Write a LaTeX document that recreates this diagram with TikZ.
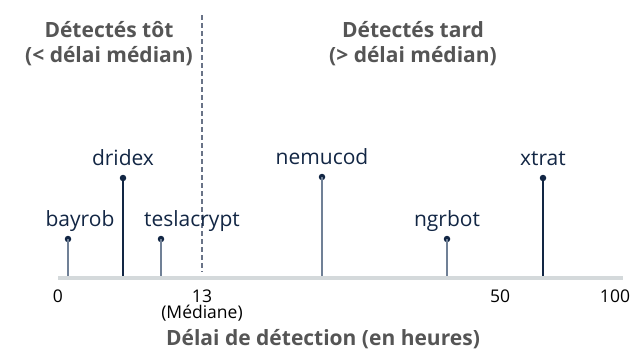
\documentclass[tikz,border=0pt]{standalone}
\usepackage{fontspec}
\setmainfont{Open Sans}
\usepackage{xcolor}
\definecolor{hdrgray}{RGB}{85,85,85}
\definecolor{navy}{RGB}{18,38,68}
\definecolor{stemlight}{RGB}{112,128,150}
\definecolor{axisbar}{RGB}{212,217,219}
\definecolor{medline}{RGB}{105,115,135}
\usetikzlibrary{positioning}
\tikzset{
  hdr/.style={font=\fontsize{21}{24}\selectfont\bfseries,text=hdrgray,inner sep=0pt,anchor=base},
  lbl/.style={font=\fontsize{21}{24}\selectfont,text=navy,inner sep=0pt,anchor=base},
  tck/.style={font=\fontsize{17.5}{20}\selectfont,text=black,inner sep=0pt,anchor=base},
  dot/.style={circle,fill=navy,inner sep=0pt,minimum size=6.5pt},
  stem_dark/.style={draw=navy,line width=1.2pt},
  stem_light/.style={draw=stemlight,line width=1.3pt},
  axbar/.style={draw=axisbar,line width=4.5pt},
  medline/.style={draw=medline,line width=1.1pt,dash pattern=on 5pt off 3pt},
}

\begin{document}
\begin{tikzpicture}[x=1pt,y=-1pt]
  \path[use as bounding box] (0,0) rectangle (642,349);
  \node (early1)[hdr] at (109,37) {Détectés tôt};
  \node (early2)[hdr] at (109,62) {(< délai médian)};
  \node (late1) [hdr] at (413,37) {Détectés tard};
  \node (late2) [hdr] at (413,62) {(> délai médian)};
  \coordinate (medTop) at (202,15);
  \coordinate (medBot) at (202,272);
  \draw[medline] (medTop) -- (medBot);
  \foreach \nm/\px/\py/\lx/\st in {bayrob/68/239/80/stem_light,dridex/123/178/123/stem_dark,
      teslacrypt/161/239/192/stem_light,nemucod/322/177/322/stem_light,
      ngrbot/447/239/447/stem_light,xtrat/543/178/543/stem_dark}{
    \coordinate (\nm-base) at (\px,276);
    \node (\nm-dot)[dot] at (\px,\py) {};
    \draw[\st] (\nm-base) -- (\nm-dot.center);
    \node (\nm-lbl)[lbl] at ({\lx},{\py-13}) {\nm};
  }
  \coordinate (axL) at (58,278);
  \coordinate (axR) at (623,278);
  \draw[axbar] (axL) -- (axR);
  \node (t0)  [tck] at (58,302) {0};
  \node (t13) [tck] at (202,302) {13};
  \node (tmed)[tck] at (202,318) {(Médiane)};
  \node (t50) [tck] at (500,302) {50};
  \node (t100)[tck] at (615,302) {100};
  \node (xttl)[hdr] at (323,345) {Délai de détection (en heures)};
\end{tikzpicture}
\end{document}
